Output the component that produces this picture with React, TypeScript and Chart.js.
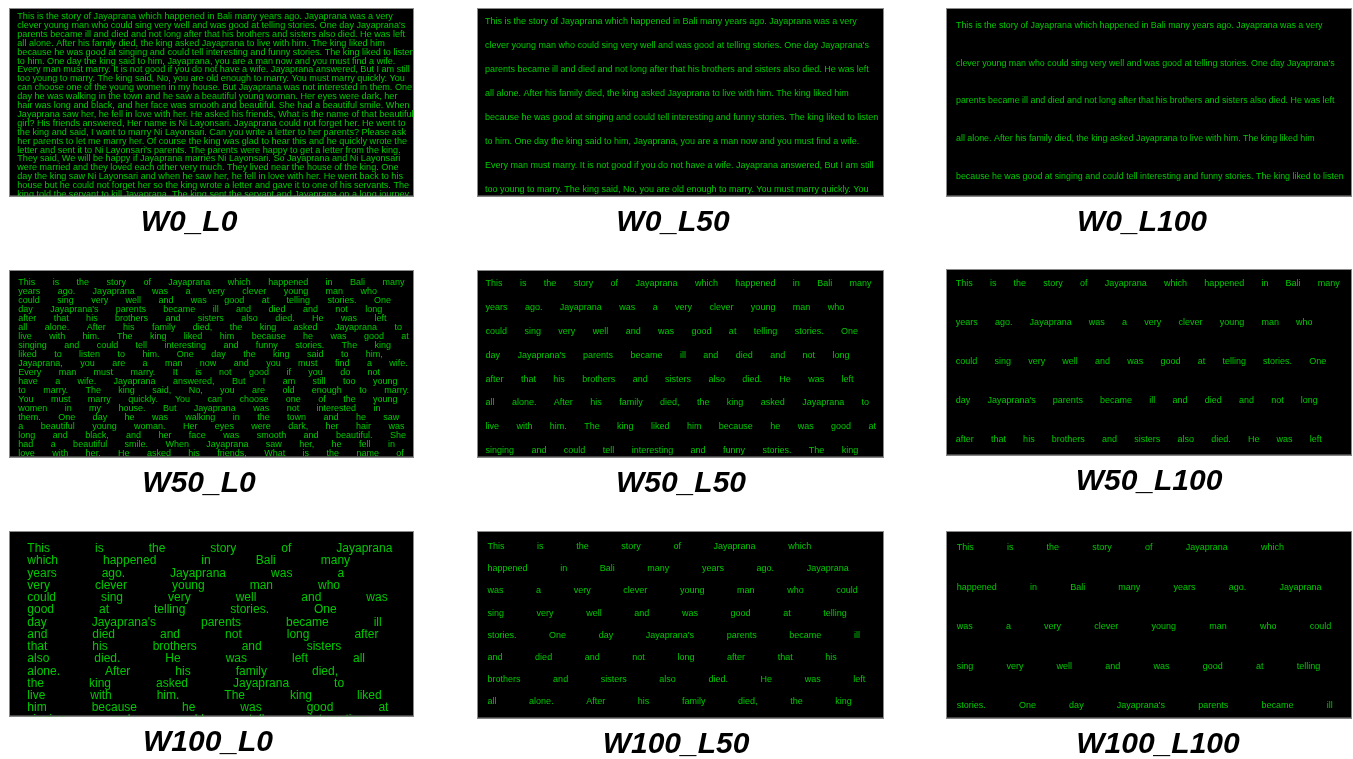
import React, { useEffect, useRef } from 'react';
import { Chart, registerables } from 'chart.js';

Chart.register(...registerables);

// ---------- data ----------
const STORY =
  "This is the story of Jayaprana which happened in Bali many years ago. Jayaprana was a very clever young man who could sing very well and was good at telling stories. One day Jayaprana's parents became ill and died and not long after that his brothers and sisters also died. He was left all alone. After his family died, the king asked Jayaprana to live with him. The king liked him because he was good at singing and could tell interesting and funny stories. The king liked to listen to him. One day the king said to him, Jayaprana, you are a man now and you must find a wife. Every man must marry. It is not good if you do not have a wife. Jayaprana answered, But I am still too young to marry. The king said, No, you are old enough to marry. You must marry quickly. You can choose one of the young women in my house. But Jayaprana was not interested in them. One day he was walking in the town and he saw a beautiful young woman. Her eyes were dark, her hair was long and black, and her face was smooth and beautiful. She had a beautiful smile. When Jayaprana saw her, he fell in love with her. He asked his friends, What is the name of that beautiful girl? His friends answered, Her name is Ni Layonsari. Jayaprana could not forget her. He went to the king and said, I want to marry Ni Layonsari. Can you write a letter to her parents? Please ask her parents to let me marry her. Of course the king was glad to hear this and he quickly wrote the letter and sent it to Ni Layonsari's parents. The parents were happy to get a letter from the king. They said, We will be happy if Jayaprana marries Ni Layonsari. So Jayaprana and Ni Layonsari were married and they loved each other very much. They lived near the house of the king. One day the king saw Ni Layonsari and when he saw her, he fell in love with her. He went back to his house but he could not forget her so the king wrote a letter and gave it to one of his servants. The king told the servant to kill Jayaprana. The king sent the servant and Jayaprana on a long journey.";

const TITLES = [
  'W0_L0', 'W0_L50', 'W0_L100',
  'W50_L0', 'W50_L50', 'W50_L100',
  'W100_L0', 'W100_L50', 'W100_L100',
];

// words per wrapped line
const LINES_W0 = [17, 17, 19, 18, 18, 21, 21, 19, 18, 19, 18, 20, 17, 20, 21, 19, 16, 18, 22, 22, 18];
const LINES_W50 = [11, 10, 11, 10, 11, 11, 12, 10, 12, 12, 12, 11, 12, 11, 10, 12, 11, 11, 11, 12, 10];
const LINES_W100_BIG = [6, 5, 5, 5, 6, 5, 5, 6, 5, 6, 5, 5, 6, 6, 5];
const LINES_W100_SMALL = [7, 7, 8, 8, 7, 8, 8, 8, 8, 8];

// ---------- styles / layout ----------
const FONT = '"Liberation Sans", Arial, Helvetica, sans-serif';
const TEXT_COLOR = 'rgb(0, 200, 0)';
const BORDER_COLOR = '#8a8a8a';
const TITLE_SIZE = 30;
const TITLE_PAD_TOP = 8.5;
const TITLE_PAD_BOTTOM = 2;

type PanelCfg = {
  lines: number[];
  left: number; top: number; right: number; bottom: number;
  titleX: number;
  padX: number; firstY: number; pitch: number; size: number; gap: number | null;
};

const PANELS: PanelCfg[] = [
  { lines: LINES_W0, left: 9, top: 8, right: 414, bottom: 196, titleX: 189, padX: 8.3, firstY: 8, pitch: 8.9, size: 9.1, gap: null },
  { lines: LINES_W0, left: 477, top: 8, right: 884, bottom: 196, titleX: 673, padX: 8, firstY: 13, pitch: 24, size: 9, gap: null },
  { lines: LINES_W0, left: 946, top: 8, right: 1352, bottom: 196, titleX: 1142, padX: 10, firstY: 17, pitch: 37.7, size: 8.9, gap: null },
  { lines: LINES_W50, left: 9, top: 270, right: 414, bottom: 457, titleX: 199, padX: 9.3, firstY: 12.3, pitch: 8.96, size: 9, gap: 17.4 },
  { lines: LINES_W50, left: 477, top: 270, right: 884, bottom: 457, titleX: 681, padX: 8.5, firstY: 13, pitch: 23.9, size: 9, gap: 17.4 },
  { lines: LINES_W50, left: 946, top: 269, right: 1352, bottom: 455, titleX: 1149, padX: 9.7, firstY: 13.7, pitch: 39.1, size: 9, gap: 17.2 },
  { lines: LINES_W100_BIG, left: 9, top: 531, right: 414, bottom: 716, titleX: 208, padX: 18.3, firstY: 17.3, pitch: 12.23, size: 12, gap: 45 },
  { lines: LINES_W100_SMALL, left: 477, top: 531, right: 884, bottom: 718, titleX: 676, padX: 10.5, firstY: 15, pitch: 22.2, size: 9, gap: 32.6 },
  { lines: LINES_W100_SMALL, left: 946, top: 531, right: 1352, bottom: 718, titleX: 1158, padX: 10.7, firstY: 16, pitch: 39.6, size: 9, gap: 33.2 },
];

const WORDS = STORY.split(' ');

const storyPlugin = {
  id: 'storyPanel',
  afterDraw(chart: any, _args: any, opts: any) {
    const cfg: PanelCfg = opts.cfg;
    if (!cfg) return;
    const { ctx, chartArea: a } = chart;
    ctx.save();
    ctx.fillStyle = '#000';
    ctx.fillRect(a.left, a.top, a.right - a.left, a.bottom - a.top);
    ctx.beginPath();
    ctx.rect(a.left, a.top, a.right - a.left, a.bottom - a.top);
    ctx.clip();
    ctx.font = `${cfg.size}px ${FONT}`;
    ctx.fillStyle = TEXT_COLOR;
    ctx.textBaseline = 'alphabetic';
    ctx.textAlign = 'left';
    const gap = cfg.gap == null ? ctx.measureText(' ').width : cfg.gap;
    let wi = 0;
    cfg.lines.forEach((n, li) => {
      const y = a.top + cfg.firstY + li * cfg.pitch + 0.33 * cfg.size;
      let x = a.left + cfg.padX;
      for (let k = 0; k < n && wi < WORDS.length; k++, wi++) {
        const w = WORDS[wi];
        ctx.fillText(w, x, y);
        x += ctx.measureText(w).width + gap;
      }
    });
    ctx.restore();
    ctx.save();
    ctx.strokeStyle = BORDER_COLOR;
    ctx.lineWidth = 1;
    ctx.strokeRect(a.left + 0.5, a.top + 0.5, a.right - a.left - 1, a.bottom - a.top - 1);
    ctx.restore();
  },
};

function Panel({ cfg, title }: { cfg: PanelCfg; title: string }) {
  const ref = useRef<HTMLCanvasElement | null>(null);
  const half = Math.ceil(Math.max(cfg.titleX - cfg.left, cfg.right - cfg.titleX)) + 1;
  const cLeft = cfg.titleX - half;
  const width = half * 2;
  const height = Math.round(cfg.bottom - cfg.top + TITLE_PAD_TOP + TITLE_SIZE * 1.2 + TITLE_PAD_BOTTOM);

  useEffect(() => {
    if (!ref.current) return;
    const padL = cfg.left - cLeft;
    const padR = cLeft + width - cfg.right;
    const chart = new Chart(ref.current, {
      type: 'scatter',
      data: { datasets: [] },
      options: {
        animation: false,
        responsive: false,
        devicePixelRatio: 1,
        layout: { padding: 0 },
        plugins: {
          legend: { display: false },
          tooltip: { enabled: false },
          title: {
            display: true,
            position: 'bottom',
            text: title,
            color: '#000',
            font: { family: FONT, size: TITLE_SIZE, weight: 'bold', style: 'italic', lineHeight: 1.2 },
            padding: { top: TITLE_PAD_TOP, bottom: TITLE_PAD_BOTTOM },
          },
          storyPanel: { cfg },
        } as any,
        scales: {
          x: { display: false },
          y: { display: false },
          padL: {
            type: 'linear', position: 'left', display: true,
            grid: { display: false }, ticks: { display: false }, border: { display: false },
            afterFit: (s: any) => { s.width = padL; },
          },
          padR: {
            type: 'linear', position: 'right', display: true,
            grid: { display: false }, ticks: { display: false }, border: { display: false },
            afterFit: (s: any) => { s.width = padR; },
          },
        } as any,
      },
      plugins: [storyPlugin],
    });
    return () => chart.destroy();
  }, []);

  return (
    <canvas
      ref={ref}
      width={width}
      height={height}
      style={{ position: 'absolute', left: cLeft, top: cfg.top, width, height, display: 'block' }}
    />
  );
}

export default function App() {
  return (
    <div style={{ position: 'fixed', left: 0, top: 0, width: 1353, height: 759, overflow: 'hidden', background: '#fff' }}>
      {PANELS.map((p, i) => (
        <Panel key={i} cfg={p} title={TITLES[i]} />
      ))}
    </div>
  );
}
